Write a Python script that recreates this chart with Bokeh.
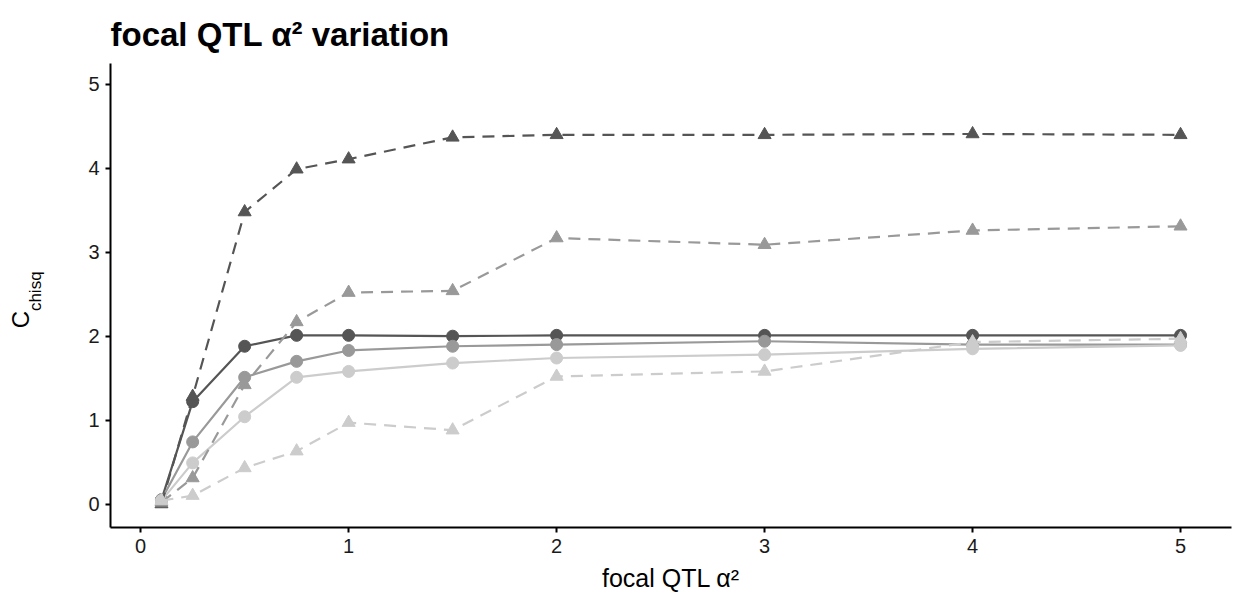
from bokeh.plotting import figure
from bokeh.models import Range1d, FixedTicker, LinearAxis
from bokeh.embed import file_html
from bokeh.resources import INLINE

# focal QTL effect size (alpha^2) on the x axis
alpha2 = [0.1, 0.25, 0.5, 0.75, 1, 1.5, 2, 3, 4, 5]

# C_chisq for the three grey levels, solid lines with circles
circ_dark = [0.05, 1.22, 1.88, 2.01, 2.01, 2.00, 2.01, 2.01, 2.01, 2.01]
circ_mid = [0.05, 0.74, 1.51, 1.70, 1.83, 1.88, 1.90, 1.94, 1.90, 1.90]
circ_light = [0.04, 0.49, 1.04, 1.51, 1.58, 1.68, 1.74, 1.78, 1.85, 1.89]

# C_chisq for the three grey levels, dashed lines with triangles
tri_dark = [0.00, 1.28, 3.48, 3.99, 4.11, 4.37, 4.40, 4.40, 4.41, 4.40]
tri_mid = [0.02, 0.31, 1.42, 2.17, 2.52, 2.54, 3.17, 3.09, 3.26, 3.31]
tri_light = [0.04, 0.10, 0.43, 0.63, 0.97, 0.88, 1.52, 1.58, 1.93, 1.97]

x_ticks = [0, 1, 2, 3, 4, 5]
y_ticks = [0, 1, 2, 3, 4, 5]

greys = ["#555555", "#999999", "#cccccc"]
FONT = "Liberation Sans"

p = figure(
    width=1236, height=603,
    x_range=Range1d(-0.145, 5.245), y_range=Range1d(-0.28, 5.25),
    output_backend="svg", toolbar_location=None,
    min_border_left=110, min_border_right=5,
    min_border_top=63, min_border_bottom=76,
    title="focal QTL \u03b1\u00b2 variation",
)
p.outline_line_color = None
p.xgrid.visible = False
p.ygrid.visible = False

p.title.text_font = FONT
p.title.text_font_size = "33px"
p.title.text_font_style = "bold"
p.title.text_color = "black"
p.title.align = "left"
p.title.standoff = 22

for ax in (p.xaxis[0], p.yaxis[0]):
    ax.axis_line_width = 2
    ax.axis_line_color = "black"
    ax.major_tick_line_width = 2
    ax.major_tick_line_color = "black"
    ax.major_tick_out = 5
    ax.major_tick_in = 0
    ax.minor_tick_line_color = None
    ax.major_label_text_font = FONT
    ax.major_label_text_font_size = "20px"
    ax.major_label_text_color = "#1a1a1a"

p.xaxis.ticker = FixedTicker(ticks=x_ticks)
p.yaxis.ticker = FixedTicker(ticks=y_ticks)
p.xaxis.major_label_standoff = 6
p.yaxis.major_label_standoff = 6

p.xaxis.axis_label = "focal QTL \u03b1\u00b2"
p.xaxis.axis_label_text_font = FONT
p.xaxis.axis_label_text_font_size = "25px"
p.xaxis.axis_label_text_font_style = "normal"
p.xaxis.axis_label_text_color = "black"
p.xaxis.axis_label_standoff = 8

# y axis title C_chisq: the subscript sits on the main y axis,
# the capital C on a bare outer axis; en/em spaces shift each along the axis
p.yaxis.axis_label = "\u2002chisq"
p.yaxis.axis_label_text_font = FONT
p.yaxis.axis_label_text_font_size = "17px"
p.yaxis.axis_label_text_font_style = "normal"
p.yaxis.axis_label_text_color = "black"
p.yaxis.axis_label_standoff = 40

outer = LinearAxis(
    axis_label="C\u2003\u2003",
    ticker=FixedTicker(ticks=[]),
    axis_line_color=None,
    major_tick_line_color=None,
    minor_tick_line_color=None,
    major_label_text_font_size="0px",
    axis_label_text_font=FONT,
    axis_label_text_font_size="24px",
    axis_label_text_font_style="normal",
    axis_label_text_color="black",
    axis_label_standoff=-10,
)
p.add_layout(outer, "left")

# solid lines with circles
for ys, c in zip([circ_dark, circ_mid, circ_light], greys):
    p.line(alpha2, ys, line_color=c, line_width=2.2)
    p.scatter(alpha2, ys, marker="circle", size=12, fill_color=c, line_color=c)

# dashed lines with triangles
for ys, c in zip([tri_dark, tri_mid, tri_light], greys):
    p.line(alpha2, ys, line_color=c, line_width=2.2, line_dash="12 8")
    p.scatter(alpha2, ys, marker="triangle", size=13, fill_color=c, line_color=c)

open("out.html", "w").write(file_html(p, INLINE))
